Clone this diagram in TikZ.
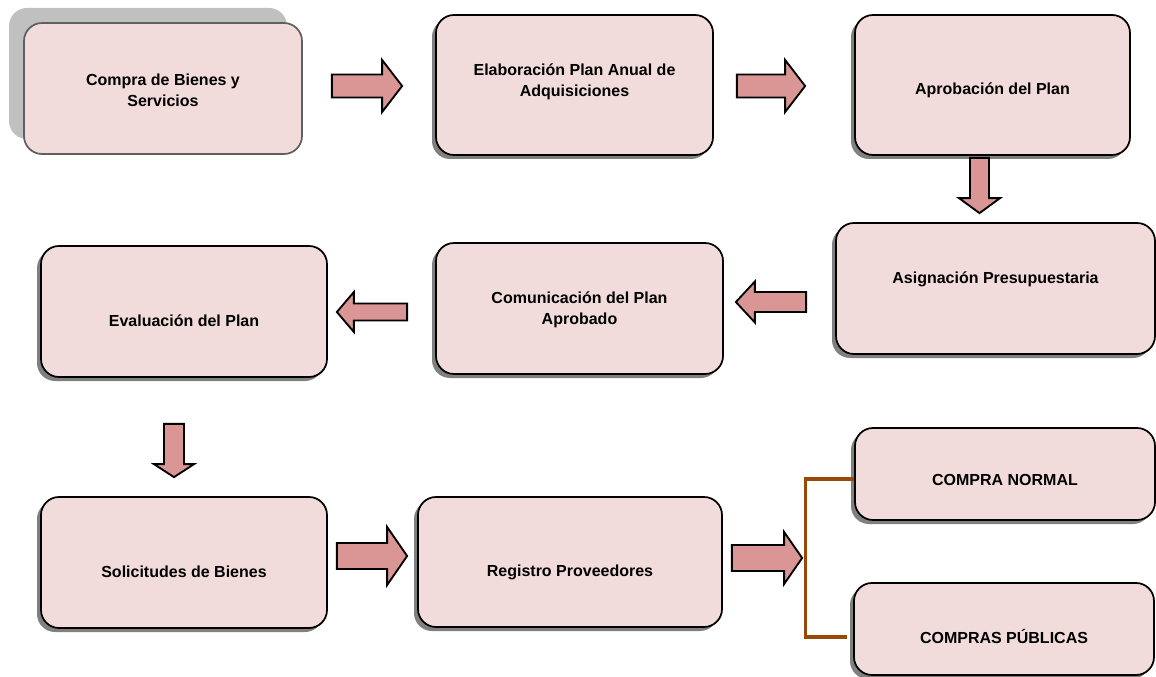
\documentclass[tikz,border=0pt]{standalone}
\usepackage{fontspec}
\setmainfont{Liberation Sans}
\usetikzlibrary{calc,shadows}

\definecolor{boxfill}{HTML}{F2DCDB}
\definecolor{arrowfill}{HTML}{D99694}
\definecolor{shadowgray}{HTML}{808080}
\definecolor{paleshadow}{HTML}{C0C0C0}
\definecolor{forkbrown}{HTML}{984807}
\definecolor{softborder}{HTML}{5F5F5F}

\tikzset{
  stage/.style 2 args={draw=black, line width=1.3pt, fill=boxfill,
    rounded corners=13.5pt, minimum width=#1*0.75pt, minimum height=#2*0.75pt,
    inner sep=0pt,
    general shadow={fill=shadowgray, shadow xshift=-3pt, shadow yshift=-3pt}},
  firststage/.style 2 args={draw=softborder, line width=1.3pt, fill=boxfill,
    rounded corners=13.5pt, minimum width=#1*0.75pt, minimum height=#2*0.75pt,
    inner sep=0pt,
    general shadow={fill=paleshadow, shadow xshift=-11.25pt, shadow yshift=11.25pt}},
  lbl/.style={font=\fontsize{12}{16}\selectfont\bfseries, align=center, inner sep=0pt},
  blockarrow/.style={draw=black, line width=1.4pt, fill=arrowfill, line join=miter},
  fork/.style={draw=forkbrown, line width=2.4pt}
}

% block arrow from tail #1 to tip #2; shaft half width #3, head half width #4,
% head length #5 (all in px units)
\newcommand{\blockarrow}[5]{%
  \path[blockarrow] let \p1=(#1), \p2=(#2),
      \n1={atan2(\y2-\y1,\x2-\x1)}, \n2={veclen(\x2-\x1,\y2-\y1)} in
    ($(\p1)+(\n1+90:#3*0.75pt)$)
    -- ($(\p1)+(\n1+90:#3*0.75pt)+(\n1:\n2-#5*0.75pt)$)
    -- ($(\p1)+(\n1+90:#4*0.75pt)+(\n1:\n2-#5*0.75pt)$)
    -- (\p2)
    -- ($(\p1)+(\n1-90:#4*0.75pt)+(\n1:\n2-#5*0.75pt)$)
    -- ($(\p1)+(\n1-90:#3*0.75pt)+(\n1:\n2-#5*0.75pt)$)
    -- ($(\p1)+(\n1-90:#3*0.75pt)$) -- cycle;
}

\begin{document}
\begin{tikzpicture}[x=0.75pt, y=-0.75pt]
\useasboundingbox (0,0) rectangle (1156,677);

% process stages
\node[firststage={278}{131}] (b1) at (163,88.5) {};
\node[stage={277}{140}] (b2) at (574.5,85) {};
\node[stage={275}{140}] (b3) at (992.5,85) {};
\node[stage={319}{131}] (b4) at (995.5,288.5) {};
\node[stage={287}{131}] (b5) at (579.5,308.5) {};
\node[stage={286}{131}] (b6) at (184,311.5) {};
\node[stage={286}{131}] (b7) at (184,562.5) {};
\node[stage={304}{130}] (b8) at (570,562) {};
\node[stage={300}{92}] (b9) at (1005,474) {};
\node[stage={300}{92}] (b10) at (1004,629) {};

% stage titles
\node[lbl] (t1) at ($(b1.center)+(0,1.5)$) {Compra de Bienes y\\Servicios};
\node[lbl] (t2) at ($(b2.center)+(0,-3)$) {Elaboración Plan Anual de\\Adquisiciones};
\node[lbl] (t3) at ($(b3.center)+(0,5)$) {Aprobación del Plan};
\node[lbl] (t4) at ($(b4.center)+(0,-9)$) {Asignación Presupuestaria};
\node[lbl] (t5) at ($(b5.center)+(0,1.5)$) {Comunicación del Plan\\Aprobado};
\node[lbl] (t6) at ($(b6.center)+(0,9.5)$) {Evaluación del Plan};
\node[lbl] (t7) at ($(b7.center)+(0,9.5)$) {Solicitudes de Bienes};
\node[lbl] (t8) at ($(b8.center)+(0,10)$) {Registro Proveedores};
\node[lbl] (t9) at ($(b9.center)+(0,6)$) {COMPRA NORMAL};
\node[lbl] (t10) at ($(b10.center)+(0,7)$) {COMPRAS PÚBLICAS};

% flow arrows
\blockarrow{$(b1.east)+(29,-2.5)$}{$(b2.west)+(-33,1)$}{11.5}{26}{20}
\blockarrow{$(b2.east)+(23,1)$}{$(b3.west)+(-49,1)$}{11.5}{26}{20}
\blockarrow{$(b3.south)+(-13,2)$}{$(b4.north)+(-16,-9)$}{9.5}{20.5}{15}
\blockarrow{$(b4.west)+(-29,13.5)$}{$(b5.east)+(12,-6.5)$}{10}{20.5}{19}
\blockarrow{$(b5.west)+(-28,3.5)$}{$(b6.east)+(9,0.5)$}{8.5}{20}{17}
\blockarrow{$(b6.south)+(-10,46)$}{$(b7.north)+(-10,-19)$}{10}{20}{13}
\blockarrow{$(b7.east)+(9,-6.5)$}{$(b8.west)+(-10,-6)$}{13}{29}{20}
\coordinate (fork) at ($(b9.west)+(-49,0)$);
\blockarrow{$(b8.east)+(9,-4)$}{$(b8.east -| fork)+(-3,-4)$}{13}{26}{18}

% branching bracket
\draw[fork] ($(b9.west)+(0,5)$) -| ($(b10.west)+(-48,8)$) -- ($(b10.west)+(-6,8)$);
\end{tikzpicture}
\end{document}
